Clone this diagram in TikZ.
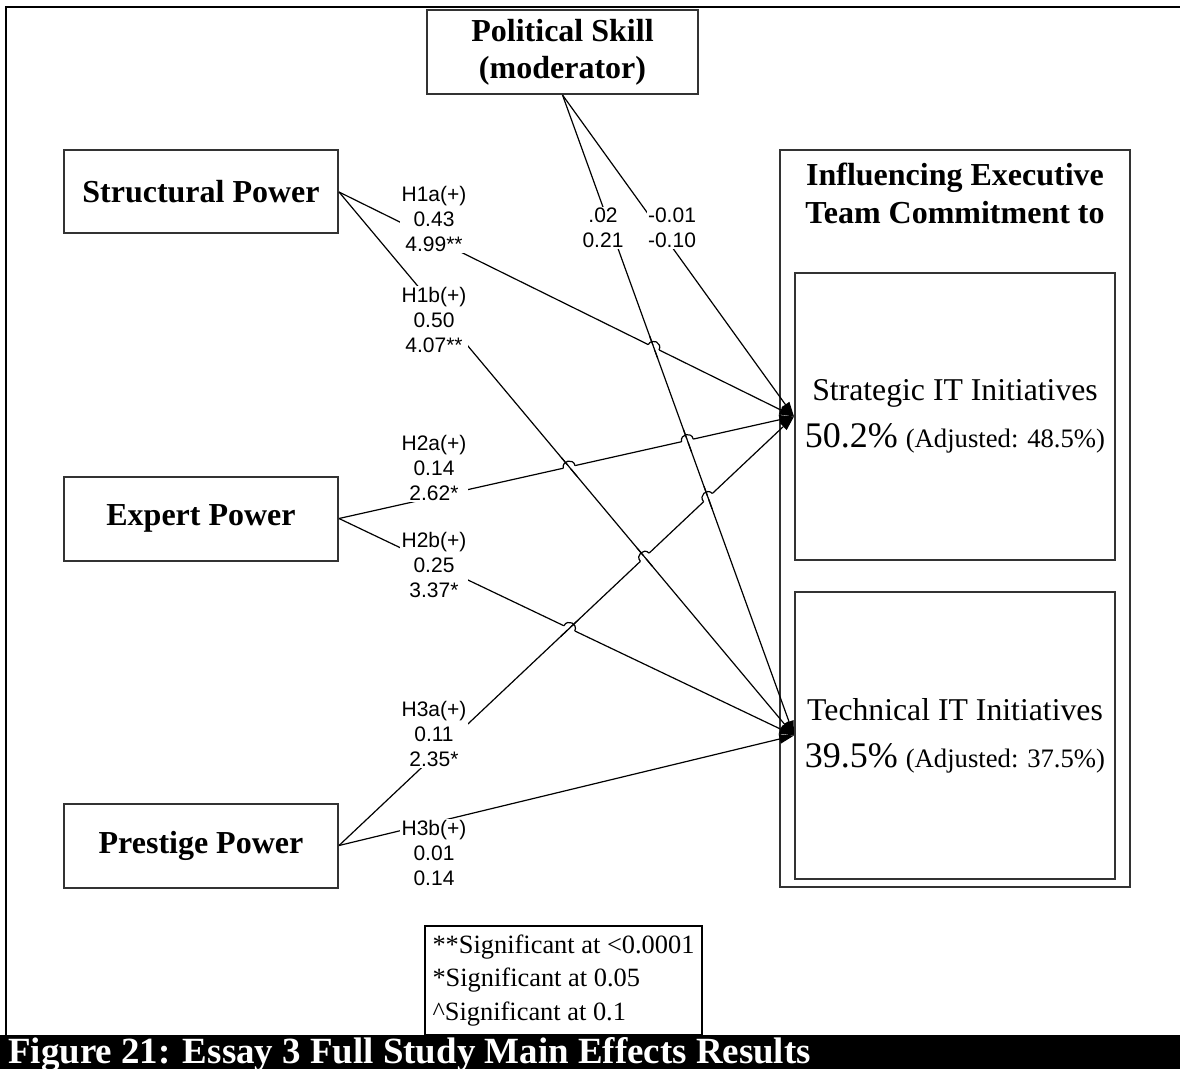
\documentclass[tikz,border=0pt]{standalone}
\usepackage{fontspec}
\setmainfont{Liberation Serif}
\newfontfamily\hypfont{Liberation Sans}
\usetikzlibrary{arrows.meta}
\usetikzlibrary{calc}

% small jump where one path crosses another
\newcommand{\hopover}[4]{%
  \coordinate (hx) at (intersection of #1--#2 and #3--#4);
  \draw[white, line width=3pt] ($(hx)!4.5pt!(#1)$) -- ($(hx)!4.5pt!(#2)$);
  \draw[line width=0.9pt] ($(hx)!9pt!(#3)$) -- ($(hx)!9pt!(#4)$);
  \draw[line width=0.9pt] ($(hx)!4.5pt!(#1)$) to[bend left=90, looseness=1.7] ($(hx)!4.5pt!(#2)$);
}

\begin{document}
\begin{tikzpicture}[x=0.75pt, y=-0.75pt,
		construct/.style={draw=black!80, line width=1.5pt, fill=white, align=center,
			font=\fontsize{24pt}{28pt}\selectfont\bfseries},
		outcome/.style={draw=black!80, line width=1.5pt, minimum width=240pt,
			minimum height=215.25pt, align=center, font=\fontsize{23.8pt}{35pt}\selectfont},
		effect/.style={line width=0.9pt, -{Triangle[length=11pt, width=7pt]}},
		coef/.style={fill=white, inner sep=1pt, align=center,
			font=\hypfont\fontsize{15.75pt}{18.4pt}\selectfont}
	]
	\useasboundingbox (0,0) rectangle (1180,1069);

	% frame and caption bar
	\draw[line width=1.5pt] (6,1035) -- (6,7) -- (1180,7);
	\fill[black] (0,1035) rectangle (1180,1069);
	\node[anchor=base west, inner sep=0pt, text=white,
		font=\fontsize{27.7pt}{30pt}\selectfont\bfseries] (caption) at (8,1063)
		{Figure 21: Essay 3 Full Study Main Effects Results};

	% constructs
	\node[construct, minimum width=205.5pt, minimum height=62.25pt] (structural) at (201,192) {Structural Power};
	\node[construct, minimum width=205.5pt, minimum height=63pt] (expert) at (201,518.5) {Expert Power};
	\node[construct, minimum width=205.5pt, minimum height=63pt] (prestige) at (201,845.5) {Prestige Power};
	\node[construct, minimum width=203.25pt, minimum height=63pt] (skill) at (562.5,52) {Political Skill\\(moderator)};

	\node[draw=black!80, line width=1.5pt, minimum width=262.5pt, minimum height=552.75pt] (commit) at (955,518.5) {};
	\node[align=center, font=\fontsize{24pt}{28pt}\selectfont\bfseries] (header) at (955,193.5)
		{Influencing Executive\\Team Commitment to};
	\node[outcome] (strategic) at (955,416.5)
		{Strategic IT Initiatives\\{\fontsize{27pt}{30pt}\selectfont 50.2\%} {\fontsize{20pt}{24pt}\selectfont (Adjusted: 48.5\%)}};
	\node[outcome] (technical) at (955,735.5)
		{Technical IT Initiatives\\{\fontsize{27pt}{30pt}\selectfont 39.5\%} {\fontsize{20pt}{24pt}\selectfont (Adjusted: 37.5\%)}};

	% paths
	\draw[effect] (structural.east) -- (strategic.west);
	\draw[effect] (structural.east) -- (technical.west);
	\draw[effect] (expert.east) -- (strategic.west);
	\draw[effect] (expert.east) -- (technical.west);
	\draw[effect] (prestige.east) -- (strategic.west);
	\draw[effect] (prestige.east) -- (technical.west);
	\draw[effect] (skill.south) -- (strategic.west);
	\draw[effect] (skill.south) -- (technical.west);

	% jumps
	\hopover{structural.east}{strategic.west}{skill.south}{technical.west}
	\hopover{expert.east}{strategic.west}{structural.east}{technical.west}
	\hopover{expert.east}{strategic.west}{skill.south}{technical.west}
	\hopover{expert.east}{technical.west}{prestige.east}{strategic.west}
	\hopover{prestige.east}{strategic.west}{structural.east}{technical.west}
	\hopover{prestige.east}{strategic.west}{skill.south}{technical.west}

	% coefficients
	\node[coef] (h1a) at (434,219) {H1a(+)\\0.43\\4.99**};
	\node[coef] (h1b) at (434,320) {H1b(+)\\0.50\\4.07**};
	\node[coef] (h2a) at (434,468) {H2a(+)\\0.14\\2.62*};
	\node[coef] (h2b) at (434,565) {H2b(+)\\0.25\\3.37*};
	\node[coef] (h3a) at (434,734) {H3a(+)\\0.11\\2.35*};
	\node[coef] (h3b) at (434,853) {H3b(+)\\0.01\\0.14};
	\node[coef] (mod1) at (603,228) {.02\\0.21};
	\node[coef] (mod2) at (672,228) {-0.01\\-0.10};

	% significance key
	\node[draw, line width=1pt, fill=white, minimum width=207.75pt, minimum height=81.75pt, align=left,
		font=\fontsize{19.8pt}{25pt}\selectfont] (legend) at (563.5,980.5)
		{**Significant at <0.0001\\*Significant at 0.05\\\textasciicircum Significant at 0.1};
\end{tikzpicture}
\end{document}
